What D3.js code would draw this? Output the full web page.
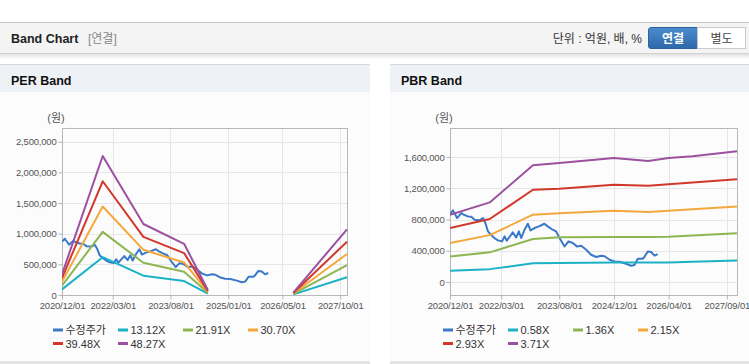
<!DOCTYPE html>
<html>
<head>
<meta charset="utf-8">
<script src="https://cdnjs.cloudflare.com/ajax/libs/d3/7.8.5/d3.min.js"></script>
<style>
  html, body { margin: 0; padding: 0; background: #fff; }
  svg { display: block; font-family: "Liberation Sans", Arial, "Noto Sans CJK KR", sans-serif; }
  .axis path { display: none; }
  .axis line { stroke: #b5b5b5; }
  .axis text { fill: #555; font-size: 9.5px; letter-spacing: -0.2px; }
  .legend text { fill: #333; font-size: 11px; }
</style>
</head>
<body>
<div id="chart"></div>
<script>
const page_width = 749;
const page_height = 364;

// ---- data ----
const priceDates = [
  "2020-12-01","2020-12-27","2021-02-02","2021-03-11","2021-04-03","2021-05-09","2021-06-09",
  "2021-07-08","2021-08-22","2021-09-21","2021-10-12","2021-11-04","2021-12-04","2022-01-03",
  "2022-02-01","2022-03-10","2022-04-01","2022-04-21","2022-05-15","2022-06-13","2022-07-13",
  "2022-08-06","2022-08-27","2022-09-26","2022-10-25","2022-11-18","2022-12-24","2023-02-01",
  "2023-03-22","2023-04-20","2023-05-25","2023-07-04","2023-08-03","2023-09-17","2023-10-22",
  "2023-11-30","2024-01-05","2024-02-13","2024-03-28","2024-05-11","2024-06-25","2024-08-09",
  "2024-09-08","2024-10-22","2024-12-04","2025-01-19","2025-03-18","2025-05-02","2025-06-01",
  "2025-07-01","2025-08-13","2025-08-28","2025-09-27","2025-10-27","2025-11-26","2025-12-25"
];
const priceValues = [
  870000,917000,819000,883000,861000,840000,835000,
  797000,790000,819000,755000,648000,600000,560000,
  533000,520000,584000,529000,576000,635000,570000,
  648000,563000,669000,746000,660000,691000,712000,
  746000,712000,678000,648000,563000,456000,520000,
  499000,456000,465000,413000,349000,320000,337000,
  330000,285000,264000,260000,234000,209000,218000,
  298000,298000,320000,392000,384000,337000,358000
];

// PER band (null = no data)
const perDates  = ["2020-12-01","2021-12-01","2022-12-01","2023-12-01","2024-07-01","2025-06-01","2026-08-07","2027-12-01"];
const per1312 = [92000, 617000, 315000, 227000, 22000, null, 10000, 289000];
const per2191 = [153000, 1030000, 526000, 379000, 37000, null, 17000, 489000];
const per3070 = [215000, 1443000, 737000, 531000, 52000, null, 25000, 669000];
const per3948 = [276000, 1855000, 948000, 683000, 67000, null, 32000, 870000];
const per4827 = [338000, 2268000, 1158000, 835000, 82000, null, 39000, 1072000];
const perNames = ["수정주가", "13.12X", "21.91X", "30.70X", "39.48X", "48.27X"];
const perTicksX = ["2020-12-01","2022-03-01","2023-08-01","2025-01-01","2026-05-01","2027-10-01"];
const perTicksY = [0, 500000, 1000000, 1500000, 2000000, 2500000];

// PBR band
const pbrDates = ["2020-12-01","2021-11-20","2022-12-10","2023-08-01","2024-12-01","2025-10-01","2026-04-01","2026-11-01","2027-12-01"];
const pbr058 = [145000, 165000, 240000, 245000, 251000, 250000, 251000, 258000, 274000];
const pbr136 = [325000, 380000, 550000, 572000, 576000, 576000, 578000, 595000, 625000];
const pbr215 = [499000, 600000, 862000, 880000, 913000, 896000, 912000, 930000, 966000];
const pbr293 = [691000, 806000, 1181000, 1195000, 1245000, 1233000, 1250000, 1275000, 1315000];
const pbr371 = [861000, 1019000, 1493000, 1523000, 1587000, 1550000, 1587000, 1610000, 1672000];
const pbrNames = ["수정주가", "0.58X", "1.36X", "2.15X", "2.93X", "3.71X"];
const pbrTicksX = ["2020-12-01","2022-03-01","2023-08-01","2024-12-01","2026-04-01","2027-09-01"];
const pbrTicksY = [0, 400000, 800000, 1200000, 1600000];

const colors = ["#3a78c8", "#1bb2c6", "#8db552", "#f4a83c", "#d2372b", "#9b51a0"];
const parseDate = d3.timeParse("%Y-%m-%d");
const timeDomain = [parseDate("2020-12-01"), parseDate("2027-12-01")];

const svg = d3.select("#chart")
  .append("svg")
    .attr("width", page_width)
    .attr("height", page_height);

const defs = svg.append("defs");
const shadow = defs.append("linearGradient")
  .attr("id", "shadow").attr("x1", 0).attr("x2", 0).attr("y1", 0).attr("y2", 1);
shadow.append("stop").attr("offset", "0%").attr("stop-color", "#dcdcdc");
shadow.append("stop").attr("offset", "100%").attr("stop-color", "#ffffff");
const btn = defs.append("linearGradient")
  .attr("id", "btn").attr("x1", 0).attr("x2", 0).attr("y1", 0).attr("y2", 1);
btn.append("stop").attr("offset", "0%").attr("stop-color", "#4b8ccf");
btn.append("stop").attr("offset", "100%").attr("stop-color", "#2e69a9");

// ---- top header bar ----
function draw_header() {
  svg.append("rect").attr("x", 0).attr("y", 53).attr("width", page_width).attr("height", 6).attr("fill", "url(#shadow)");
  svg.append("rect").attr("x", 0).attr("y", 22).attr("width", page_width).attr("height", 31)
    .attr("fill", "#f4f4f4");
  svg.append("line").attr("x1", 0).attr("x2", page_width).attr("y1", 22.5).attr("y2", 22.5).attr("stroke", "#c6c6c6");
  svg.append("line").attr("x1", 0).attr("x2", page_width).attr("y1", 53.5).attr("y2", 53.5).attr("stroke", "#d2d2d2");

  svg.append("text").attr("x", 11).attr("y", 43)
    .attr("font-size", "12.5px").attr("font-weight", "bold").attr("fill", "#222")
    .text("Band Chart");
  svg.append("text").attr("x", 88).attr("y", 43)
    .attr("font-size", "12px").attr("fill", "#888")
    .text("[연결]");
  svg.append("text").attr("x", 642).attr("y", 43).attr("text-anchor", "end")
    .attr("font-size", "12px").attr("fill", "#333")
    .text("단위 : 억원, 배, %");

  svg.append("path")
    .attr("d", "M651,27.5 H697.5 V48.5 H651 Q648.5,48.5 648.5,46 V30 Q648.5,27.5 651,27.5 Z")
    .attr("fill", "url(#btn)").attr("stroke", "#2d629c");
  svg.append("rect").attr("x", 697.5).attr("y", 27.5).attr("width", 48).attr("height", 21)
    .attr("fill", "#fff").attr("stroke", "#c8c8c8");
  svg.append("text").attr("x", 673).attr("y", 42.5).attr("text-anchor", "middle")
    .attr("font-size", "12px").attr("font-weight", "bold").attr("fill", "#fff").text("연결");
  svg.append("text").attr("x", 721.5).attr("y", 42.5).attr("text-anchor", "middle")
    .attr("font-size", "12px").attr("fill", "#444").text("별도");
}

// ---- one panel with its band chart ----
function draw_panel(cfg) {
  const g = svg.append("g");
  g.append("rect").attr("x", cfg.left).attr("y", 64).attr("width", cfg.width).attr("height", 298)
    .attr("fill", "#fcfcfc");
  g.append("rect").attr("x", cfg.left).attr("y", 64).attr("width", cfg.width).attr("height", 28)
    .attr("fill", "#eef2f6");
  g.append("line").attr("x1", cfg.left).attr("x2", cfg.left + cfg.width).attr("y1", 64.5).attr("y2", 64.5)
    .attr("stroke", "#d6d9dd");
  g.append("rect").attr("x", cfg.left).attr("y", 361).attr("width", cfg.width).attr("height", 3)
    .attr("fill", "#e4e4e4");
  g.append("text").attr("x", cfg.left + 11).attr("y", 85)
    .attr("font-size", "12.5px").attr("font-weight", "bold").attr("fill", "#111")
    .text(cfg.title);

  const x = d3.scaleTime().domain(timeDomain).range([cfg.px0, cfg.px1]);
  const y = d3.scaleLinear().domain(cfg.yDomain).range([295, 128]);

  // grid
  const xt = cfg.ticksX.map(parseDate);
  g.append("g").selectAll("line").data(xt.slice(1)).join("line")
    .attr("x1", (d) => Math.round(x(d)) + 0.5).attr("x2", (d) => Math.round(x(d)) + 0.5)
    .attr("y1", 128).attr("y2", 295).attr("stroke", "#e6e6e6");
  g.append("g").selectAll("line").data(cfg.ticksY).join("line")
    .attr("x1", cfg.px0).attr("x2", cfg.px1)
    .attr("y1", (d) => Math.round(y(d)) + 0.5).attr("y2", (d) => Math.round(y(d)) + 0.5)
    .attr("stroke", "#e6e6e6");

  // axes
  g.append("g").attr("class", "axis").attr("transform", `translate(${cfg.px0 + 0.5},0)`)
    .call(d3.axisLeft(y).tickValues(cfg.ticksY).tickSize(4).tickPadding(2).tickFormat(d3.format(",")));
  g.append("g").attr("class", "axis").attr("transform", "translate(0,295.5)")
    .call(d3.axisBottom(x).tickValues(xt).tickSize(4).tickPadding(3).tickFormat(d3.timeFormat("%Y/%m/%d")));

  g.append("rect").attr("x", cfg.px0 + 0.5).attr("y", 128.5)
    .attr("width", cfg.px1 - cfg.px0).attr("height", 167)
    .attr("fill", "none").attr("stroke", "#b8b8b8");

  g.append("text").attr("x", cfg.px0 - 6).attr("y", 122).attr("text-anchor", "middle")
    .attr("font-size", "11px").attr("fill", "#555").text("(원)");

  // lines
  const clip_id = "clip-" + cfg.title.replace(" ", "");
  defs.append("clipPath").attr("id", clip_id)
    .append("rect").attr("x", cfg.px0).attr("y", 126).attr("width", cfg.px1 - cfg.px0 + 1).attr("height", 171);
  const lines = g.append("g").attr("clip-path", `url(#${clip_id})`);
  const line = d3.line()
    .defined((d) => d[1] !== null)
    .x((d) => x(d[0]))
    .y((d) => y(d[1]));

  const price = priceDates.map((d, i) => [parseDate(d), priceValues[i]]);
  lines.append("path").datum(price).attr("d", line)
    .attr("fill", "none").attr("stroke", colors[0]).attr("stroke-width", 2).attr("stroke-linejoin", "round");
  cfg.bands.forEach((band, k) => {
    const pts = cfg.bandDates.map((d, i) => [parseDate(d), band[i]]);
    lines.append("path").datum(pts).attr("d", line)
      .attr("fill", "none").attr("stroke", colors[k + 1]).attr("stroke-width", 2).attr("stroke-linejoin", "round");
  });

  // legend
  const legend = g.append("g").attr("class", "legend");
  cfg.names.forEach((name, i) => {
    const col = i % 4, row = Math.floor(i / 4);
    const lx = cfg.legendX + col * 65, ly = 330 + row * 13.5;
    legend.append("line").attr("x1", lx).attr("x2", lx + 10).attr("y1", ly).attr("y2", ly)
      .attr("stroke", colors[i]).attr("stroke-width", 3);
    legend.append("text").attr("x", lx + 12.5).attr("y", ly + 4).text(name);
  });
}

draw_header();
draw_panel({
  title: "PER Band", left: 0, width: 370, px0: 62, px1: 347,
  yDomain: [0, 2724000], ticksY: perTicksY, ticksX: perTicksX,
  bandDates: perDates, bands: [per1312, per2191, per3070, per3948, per4827],
  names: perNames, legendX: 53
});
draw_panel({
  title: "PBR Band", left: 390, width: 359, px0: 450, px1: 737,
  yDomain: [-166000, 1971000], ticksY: pbrTicksY, ticksX: pbrTicksX,
  bandDates: pbrDates, bands: [pbr058, pbr136, pbr215, pbr293, pbr371],
  names: pbrNames, legendX: 443
});
</script>
</body>
</html>
